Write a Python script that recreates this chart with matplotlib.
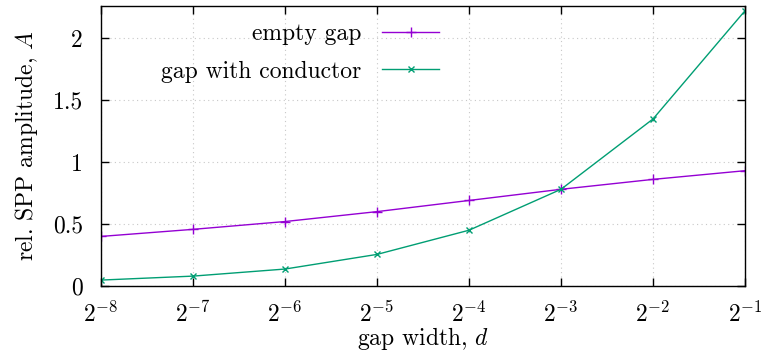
import matplotlib
matplotlib.use("Agg")
import matplotlib.pyplot as plt

plt.rcParams['font.family'] = ['cmr10', 'DejaVu Serif']
plt.rcParams['mathtext.fontset'] = 'cm'
plt.rcParams['axes.formatter.use_mathtext'] = True
plt.rcParams['font.size'] = 17

# gap widths d = 2^k
exponents = [-8, -7, -6, -5, -4, -3, -2, -1]
gap = [2.0 ** k for k in exponents]
empty_gap = [0.40, 0.457, 0.52, 0.60, 0.69, 0.78, 0.86, 0.93]
with_conductor = [0.048, 0.08, 0.137, 0.255, 0.45, 0.78, 1.347, 2.22]
tick_labels = [r'$2^{%d}$' % k for k in exponents]

fig = plt.figure(figsize=(7.62, 3.54), dpi=100)
ax = fig.add_axes([0.1325, 0.192, 0.8452, 0.791])

ax.plot(gap, empty_gap, color='#9400d3', lw=1, marker='+', ms=7, mew=1,
        label='empty gap')
ax.plot(gap, with_conductor, color='#009e73', lw=1, marker='x', ms=4.5, mew=1,
        label='gap with conductor')

ax.set_xscale('log', base=2)
ax.set_xlim(gap[0], gap[-1])
ax.set_ylim(0, 2.258)
ax.set_xticks(gap)
ax.set_xticklabels(tick_labels)
ax.minorticks_off()
ax.set_yticks([0, 0.5, 1, 1.5, 2])
ax.set_yticklabels(['0', '0.5', '1', '1.5', '2'])

ax.tick_params(direction='in', top=True, right=True, length=5.5, width=1)
ax.tick_params(axis='x', pad=11)
ax.tick_params(axis='y', pad=13)
ax.grid(True, color='#c8c8c8', linestyle=(0, (1, 3)), lw=0.8)
for s in ax.spines.values():
    s.set_linewidth(1)

ax.set_xlabel(r'gap width, $d$', labelpad=-1)
ax.set_ylabel(r'rel. SPP amplitude, $A$', labelpad=9)

leg = ax.legend(loc='upper right', bbox_to_anchor=(0.547, 0.99), markerfirst=False,
                frameon=False, handlelength=2.4, handletextpad=0.9,
                labelspacing=0.65, borderaxespad=0.2)
for t in leg.get_texts():
    t.set_ha('right')
leg._legend_box.align = 'right'

fig.savefig('out.png', dpi=100)
